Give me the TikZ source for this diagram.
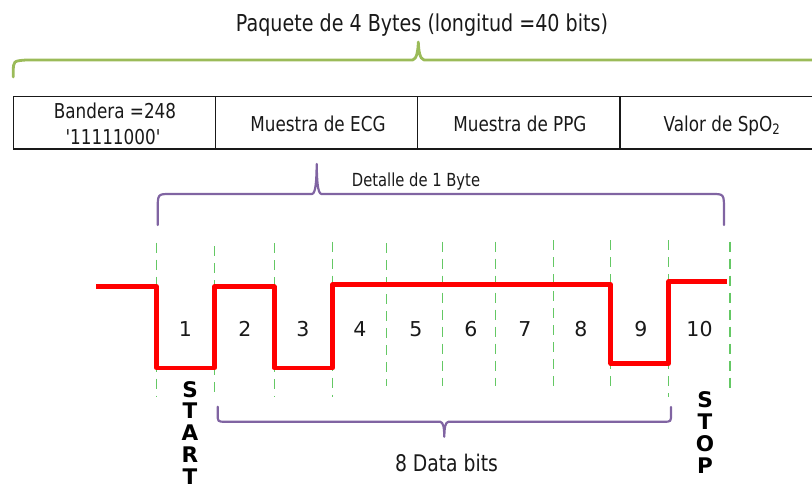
\documentclass[tikz,border=0pt]{standalone}
\usepackage{fontspec}
\setmainfont{DejaVu Sans}
\newfontfamily\condfont[FakeStretch=0.82]{DejaVu Sans}
\usetikzlibrary{calc}
\definecolor{gbr}{RGB}{155,187,89}
\definecolor{pbr}{RGB}{128,100,162}
\definecolor{dgreen}{RGB}{100,200,100}
\definecolor{sig}{RGB}{255,0,0}
\definecolor{txt}{RGB}{25,25,25}
\tikzset{
  gbrace/.style={draw=gbr, line width=2.8pt, line cap=round, line join=round},
  pbrace/.style={draw=pbr, line width=2.2pt, line cap=round, line join=round},
  tick/.style={draw=dgreen, line width=1.3pt, dash pattern=on 10pt off 7pt},
  signal/.style={draw=sig, line width=4.5pt, line join=round},
  tbl/.style={draw=txt, line width=1.3pt},
  lbl/.style={inner sep=0pt, text=txt, anchor=base},
  num/.style={inner sep=0pt, text=txt, anchor=base, font=\fontsize{20.5}{24}\selectfont},
  vword/.style={inner sep=0pt, text=black, anchor=north, align=center, font=\bfseries\fontsize{21.5}{21.8}\selectfont}
}
\begin{document}
\begin{tikzpicture}[x=1pt,y=-1pt]
\useasboundingbox (0,0) rectangle (812,490);

% title and green brace
\node[lbl, font=\condfont\fontsize{23.3}{28}\selectfont] (title) at (422,31.7) {Paquete de 4 Bytes (longitud =40 bits)};
\path[gbrace] (13.3,77) -- (13.3,72) .. controls (13.3,61) .. (26,60) -- (412.7,60)
  .. controls (417,59) and (418,50) .. (418.3,42)
  .. controls (418.6,50) and (419.6,59) .. (424,60) -- (814,60);

% table
\coordinate (tl) at (13.3,96.7);
\coordinate (bl) at (13.3,149);
\coordinate (tr) at (814,96.7);
\coordinate (br) at (814,149);
\path[tbl] (tr) -- (tl) -- (bl) -- (br);
\foreach \x/\n in {215.7/d1,417.7/d2,620/d3}{
  \coordinate (\n t) at (\x,96.7);
  \coordinate (\n b) at (\x,149);
  \path[tbl] (\n t) -- (\n b);
}
\node[lbl, font=\condfont\fontsize{20.5}{25}\selectfont] (c1a) at (115,118.3) {Bandera =248};
\node[lbl, font=\condfont\fontsize{20.5}{25}\selectfont] (c1b) at (113,144) {'11111000'};
\node[lbl, font=\condfont\fontsize{20.5}{25}\selectfont] (c2) at (318,131) {Muestra de ECG};
\node[lbl, font=\condfont\fontsize{20.5}{25}\selectfont] (c3) at (520,131) {Muestra de PPG};
\node[lbl, font=\condfont\fontsize{20.5}{25}\selectfont] (c4) at (722,131) {Valor de SpO\textsubscript{2}};

% purple brace top
\node[lbl, font=\condfont\fontsize{18}{22}\selectfont] (byte) at (416,186) {Detalle de 1 Byte};
\path[pbrace] (157.7,225) -- (157.7,210) .. controls (157.7,194) .. (170,194) -- (312,194)
  .. controls (315.8,193.5) and (316.5,180) .. (316.7,164)
  .. controls (316.9,180) and (317.6,193.5) .. (321.4,194) -- (712,194)
  .. controls (724,194) .. (724,210) -- (724,225);

% dashed bit boundaries
\foreach \i/\x/\a/\b in {0/156.7/242.7/396.7, 1/214.3/246/396.7, 2/274.3/243/396.7, 3/332.7/241.7/396.7,
  4/386.7/243/386, 5/442.7/241.7/386, 6/495.7/241.7/386, 7/553.3/240/386,
  8/610.7/240/393, 9/668.7/240/396.7, 10/730/241.7/390}{
  \coordinate (t\i) at (\x,\a);
  \coordinate (b\i) at (\x,\b);
  \path[tick] (t\i) -- (b\i);
}

% signal
\path[signal] (96,286.7) -- (156.7,286.7) -- (156.7,368) -- (214.3,368) -- (214.3,286.7)
  -- (274.3,286.7) -- (274.3,368) -- (332.7,368) -- (332.7,284.5) -- (610.7,284.5)
  -- (610.7,363.5) -- (668.7,363.5) -- (668.7,281.5) -- (726.7,281.5);

% bit numbers
\foreach \n/\x in {1/185.5,2/245,3/303,4/360,5/416,6/471,7/525,8/581,9/641,10/699.5}{
  \node[num] (n\n) at (\x,336.7) {\n};
}

% START / STOP
\node[vword] (start) at (190,381) {S\\T\\A\\R\\T};
\node[vword] (stop) at (705,391.7) {S\\T\\O\\P};

% purple brace bottom
\path[pbrace] (217.7,406.7) -- (217.7,414) .. controls (217.7,421.7) .. (225,421.7) -- (440,421.7)
  .. controls (443.6,422.2) and (444.1,428) .. (444.3,436.7)
  .. controls (444.5,428) and (445,422.2) .. (448.6,421.7) -- (664,421.7)
  .. controls (671,421.7) .. (671,414) -- (671,407);
\node[lbl, font=\condfont\fontsize{22.9}{27}\selectfont] (data) at (446.5,471.7) {8 Data bits};
\end{tikzpicture}
\end{document}
